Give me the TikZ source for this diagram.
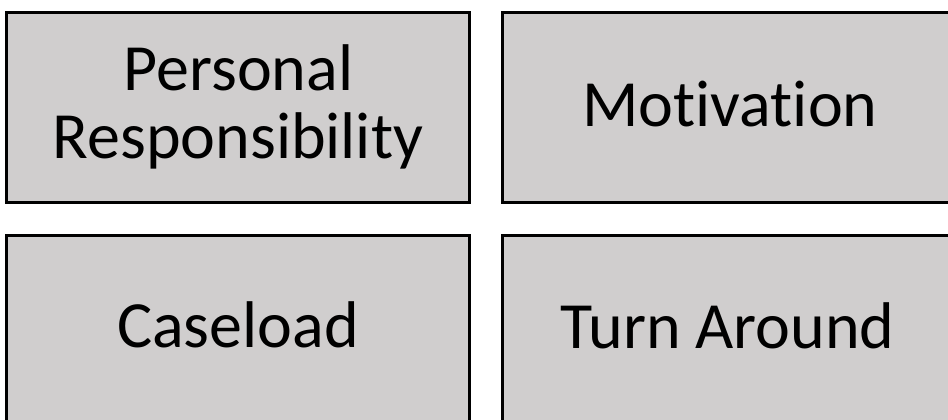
\documentclass[tikz,border=0pt]{standalone}
\usepackage{fontspec}
\setmainfont[Ligatures={NoCommon,NoRequired,NoContextual}]{Carlito}
\definecolor{boxgray}{RGB}{208,206,206}
\tikzset{
  tile/.style={draw=black, fill=boxgray, line width=3pt, minimum width=#1, minimum height=190pt, inner sep=0pt},
  lbl/.style={font=\fontsize{66}{68}\selectfont, text=black, inner sep=0pt, anchor=base}
}
\begin{document}
\begin{tikzpicture}[x=1pt,y=-1pt]
  \useasboundingbox (0,0) rectangle (948,420);
  % tiles
  \node[tile=463pt] (pr) at (238,107.5) {};
  \node[tile=456pt] (mo) at (730.5,107.5) {};
  \node[tile=463pt] (cl) at (238,330.5) {};
  \node[tile=456pt] (ta) at (730.5,330.5) {};
  % labels
  \node[lbl] (prA) at (238.5,90) {Personal};
  \node[lbl] (prB) at (238,158) {Responsibility};
  \node[lbl] (moT) at (730,126) {Motivation};
  \node[lbl] (clT) at (238,347) {Caseload};
  \node[lbl] (taT) at (727.5,348) {Turn Around};
\end{tikzpicture}
\end{document}
